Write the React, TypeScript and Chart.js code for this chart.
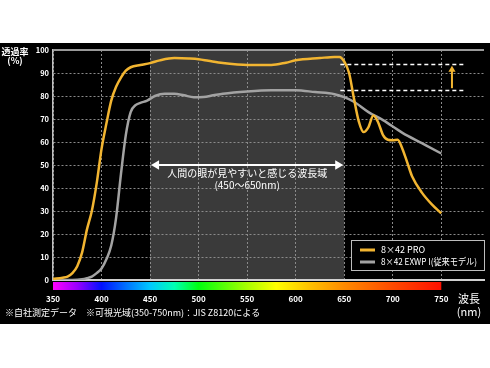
import React, { useEffect, useRef } from "react";
import { Chart, registerables } from "chart.js";

Chart.register(...registerables);

const proWavelengths = [350,360,365,370,375,380,385,390,395,400,405,410,415,420,425,430,440,450,460,475,490,500,510,525,540,550,575,590,600,625,640,645,650,655,660,665,670,675,680,685,690,695,700,705,710,715,720,730,740,750];
const proValues = [0.5,1,1.5,3,6,12,22,30,42,57,68,78,84,88,91,92.5,93.5,94.3,95.5,96.5,96.3,96,95.3,94.3,93.7,93.5,93.5,94.5,95.5,96.5,97,97,95,90,79,69,64.3,66.5,71.5,68.5,63,61,60.8,61,57,51,45,38,33,29];

const oldWavelengths = [350,370,380,385,390,395,400,405,410,415,420,425,430,435,440,447,455,465,475,485,495,505,515,525,550,575,600,620,640,650,660,675,690,710,730,750];
const oldValues = [0,0,0.3,0.8,1.5,3,5,9,15,27,46,63,73,76,77,78,80,81,81,80.3,79.5,79.6,80.3,81,82,82.5,82.5,81.7,80.8,79.5,77.5,73,69.5,64,59.5,55];

const seriesLabels = ["8×42 PRO", "8×42 EXWP I(従来モデル)"];
const seriesColors = ["#f2b531", "#a3a3a3"];
const xTicks = [350, 400, 450, 500, 550, 600, 650, 700, 750];
const yTicks = [0, 10, 20, 30, 40, 50, 60, 70, 80, 90, 100];
const bandRange = [450, 650];
const bandText = ["人間の眼が見やすいと感じる波長域", "(450〜650nm)"];
const improveLevels = [94, 82.6];
const improveLineRange = [646, 773];
const improveArrowX = 761;
const spectrumStops: [number, string][] = [
  [350, "#ff00ff"], [375, "#9a00ff"], [400, "#0010ff"], [425, "#0070ff"], [450, "#00c8ff"],
  [475, "#00ffb4"], [500, "#00ff10"], [550, "#a8ff00"], [580, "#ffff00"], [615, "#ffc000"],
  [650, "#ff8a00"], [700, "#ff4a00"], [750, "#ff1000"],
];
const footnote = "※自社測定データ　※可視光域(350-750nm)：JIS Z8120による";

const FONT = "'Noto Sans CJK JP', 'Noto Sans', sans-serif";

function arrowHead(ctx: CanvasRenderingContext2D, x: number, y: number, dx: number, dy: number, size: number) {
  const len = Math.hypot(dx, dy);
  const ux = dx / len, uy = dy / len;
  const px = -uy, py = ux;
  ctx.beginPath();
  ctx.moveTo(x, y);
  ctx.lineTo(x - ux * size + px * size * 0.6, y - uy * size + py * size * 0.6);
  ctx.lineTo(x - ux * size - px * size * 0.6, y - uy * size - py * size * 0.6);
  ctx.closePath();
  ctx.fill();
}

function fitText(ctx: CanvasRenderingContext2D, text: string, x: number, y: number, maxW: number) {
  const w = ctx.measureText(text).width;
  if (w <= maxW) {
    ctx.fillText(text, x, y);
  } else {
    ctx.save();
    ctx.translate(x, y);
    ctx.scale(maxW / w, 1);
    ctx.fillText(text, 0, 0);
    ctx.restore();
  }
}

const decorPlugin = {
  id: "decor",
  beforeDraw(chart: any) {
    const { ctx, chartArea, scales } = chart;
    const x = scales.x;
    ctx.save();
    ctx.fillStyle = "#ffffff";
    ctx.fillRect(0, 0, chart.width, chart.height);
    ctx.fillStyle = "#000000";
    ctx.fillRect(0, 43, chart.width, 281);
    const bx1 = x.getPixelForValue(bandRange[0]);
    const bx2 = x.getPixelForValue(bandRange[1]);
    ctx.fillStyle = "#3a3a3a";
    ctx.fillRect(bx1, chartArea.top, bx2 - bx1, chartArea.bottom - chartArea.top);
    ctx.restore();
  },
  afterDatasetsDraw(chart: any) {
    const { ctx, chartArea, scales } = chart;
    const x = scales.x, y = scales.y;
    ctx.save();
    ctx.strokeStyle = "#9a9a9a";
    ctx.lineWidth = 2;
    ctx.beginPath();
    ctx.moveTo(chartArea.left, chartArea.top);
    ctx.lineTo(chartArea.right, chartArea.top);
    ctx.stroke();

    const bx1 = x.getPixelForValue(bandRange[0]);
    const bx2 = x.getPixelForValue(bandRange[1]);
    const ay = y.getPixelForValue(50);
    ctx.strokeStyle = "#ffffff";
    ctx.fillStyle = "#ffffff";
    ctx.lineWidth = 2;
    ctx.beginPath();
    ctx.moveTo(bx1 + 6, ay);
    ctx.lineTo(bx2 - 6, ay);
    ctx.stroke();
    arrowHead(ctx, bx1 + 1, ay, -1, 0, 8);
    arrowHead(ctx, bx2 - 1, ay, 1, 0, 8);
    ctx.font = `10px ${FONT}`;
    ctx.textAlign = "center";
    ctx.textBaseline = "middle";
    const cx = (bx1 + bx2) / 2;
    ctx.fillText(bandText[0], cx, ay + 8);
    ctx.fillText(bandText[1], cx, ay + 20);

    const lx1 = x.getPixelForValue(improveLineRange[0]);
    const lx2 = x.getPixelForValue(improveLineRange[1]);
    ctx.setLineDash([4, 3]);
    ctx.lineWidth = 1.5;
    ctx.strokeStyle = "#ffffff";
    improveLevels.forEach((v) => {
      const py = Math.round(y.getPixelForValue(v)) + 0.5;
      ctx.beginPath();
      ctx.moveTo(lx1, py);
      ctx.lineTo(lx2, py);
      ctx.stroke();
    });
    ctx.setLineDash([]);
    const ax = x.getPixelForValue(improveArrowX);
    const ayTop = y.getPixelForValue(improveLevels[0] - 0.8);
    const ayBot = y.getPixelForValue(improveLevels[1] + 0.8);
    ctx.strokeStyle = seriesColors[0];
    ctx.fillStyle = seriesColors[0];
    ctx.lineWidth = 2;
    ctx.beginPath();
    ctx.moveTo(ax, ayBot);
    ctx.lineTo(ax, ayTop + 5);
    ctx.stroke();
    arrowHead(ctx, ax, ayTop, 0, -1, 6);

    const lgX = 351, lgY = 240, lgW = 133, lgH = 30;
    ctx.fillStyle = "#000000";
    ctx.fillRect(lgX, lgY, lgW, lgH);
    ctx.strokeStyle = "#bdbdbd";
    ctx.lineWidth = 1;
    ctx.strokeRect(lgX + 0.5, lgY + 0.5, lgW, lgH);
    ctx.font = `9px ${FONT}`;
    ctx.textAlign = "left";
    ctx.textBaseline = "middle";
    chart.data.datasets.forEach((ds: any, i: number) => {
      const ry = lgY + 10 + i * 12;
      ctx.strokeStyle = ds.borderColor;
      ctx.lineWidth = 3;
      ctx.beginPath();
      ctx.moveTo(lgX + 9, ry);
      ctx.lineTo(lgX + 24, ry);
      ctx.stroke();
      ctx.fillStyle = "#ffffff";
      fitText(ctx, ds.label, lgX + 30, ry, 96);
    });

    const sx1 = x.getPixelForValue(350);
    const sx2 = x.getPixelForValue(750);
    const grad = ctx.createLinearGradient(sx1, 0, sx2, 0);
    spectrumStops.forEach(([w, c]) => grad.addColorStop((w - 350) / 400, c));
    ctx.fillStyle = grad;
    ctx.fillRect(sx1, chartArea.bottom + 2, sx2 - sx1, 8);

    ctx.fillStyle = "#ffffff";
    ctx.font = `bold 9px ${FONT}`;
    ctx.textAlign = "center";
    ctx.fillText("透過率", 15, 52);
    ctx.fillText("(%)", 15, 61);
    ctx.font = `11px ${FONT}`;
    ctx.fillText("波長", 469, 299);
    ctx.fillText("(nm)", 469, 312);

    ctx.font = `9px ${FONT}`;
    ctx.textAlign = "left";
    ctx.fillText(footnote, 5, 313);
    ctx.restore();
  },
};

export default function App() {
  const ref = useRef<HTMLCanvasElement>(null);
  useEffect(() => {
    document.body.style.margin = "0";
    const canvas = ref.current!;
    const chart = new Chart(canvas, {
      type: "line",
      data: {
        datasets: [
          {
            label: seriesLabels[0],
            data: proWavelengths.map((w, i) => ({ x: w, y: proValues[i] })),
            borderColor: seriesColors[0],
            borderWidth: 2.5,
            pointRadius: 0,
            cubicInterpolationMode: "monotone",
          },
          {
            label: seriesLabels[1],
            data: oldWavelengths.map((w, i) => ({ x: w, y: oldValues[i] })),
            borderColor: seriesColors[1],
            borderWidth: 2.5,
            pointRadius: 0,
            cubicInterpolationMode: "monotone",
          },
        ],
      },
      options: {
        animation: false,
        responsive: false,
        layout: { padding: { top: 50, right: 6, left: 0, bottom: 0 } },
        plugins: { legend: { display: false }, tooltip: { enabled: false } },
        scales: {
          x: {
            type: "linear",
            min: 350,
            max: 794,
            afterBuildTicks: (scale: any) => {
              scale.ticks = xTicks.map((v) => ({ value: v }));
            },
            afterFit: (scale: any) => {
              scale.height = 88;
            },
            ticks: {
              color: "#ffffff",
              font: { family: FONT, size: 8, weight: "bold" },
              padding: 14,
              maxRotation: 0,
              autoSkip: false,
            },
            grid: { color: "#8a8a8a", lineWidth: 1, drawTicks: false },
            border: { color: "#d0d0d0", width: 2, dash: [2, 2] },
          },
          y: {
            min: 0,
            max: 100,
            afterBuildTicks: (scale: any) => {
              scale.ticks = yTicks.map((v) => ({ value: v }));
            },
            afterFit: (scale: any) => {
              scale.width = 53;
            },
            ticks: {
              color: "#ffffff",
              font: { family: FONT, size: 7.5, weight: "bold" },
              padding: 4,
            },
            grid: { color: "#8a8a8a", lineWidth: 1, drawTicks: false },
            border: { color: "#c0c0c0", width: 1.5, dash: [2, 2] },
          },
        },
      },
      plugins: [decorPlugin],
    } as any);
    return () => chart.destroy();
  }, []);
  return <canvas ref={ref} width={490} height={368} style={{ display: "block" }} />;
}
